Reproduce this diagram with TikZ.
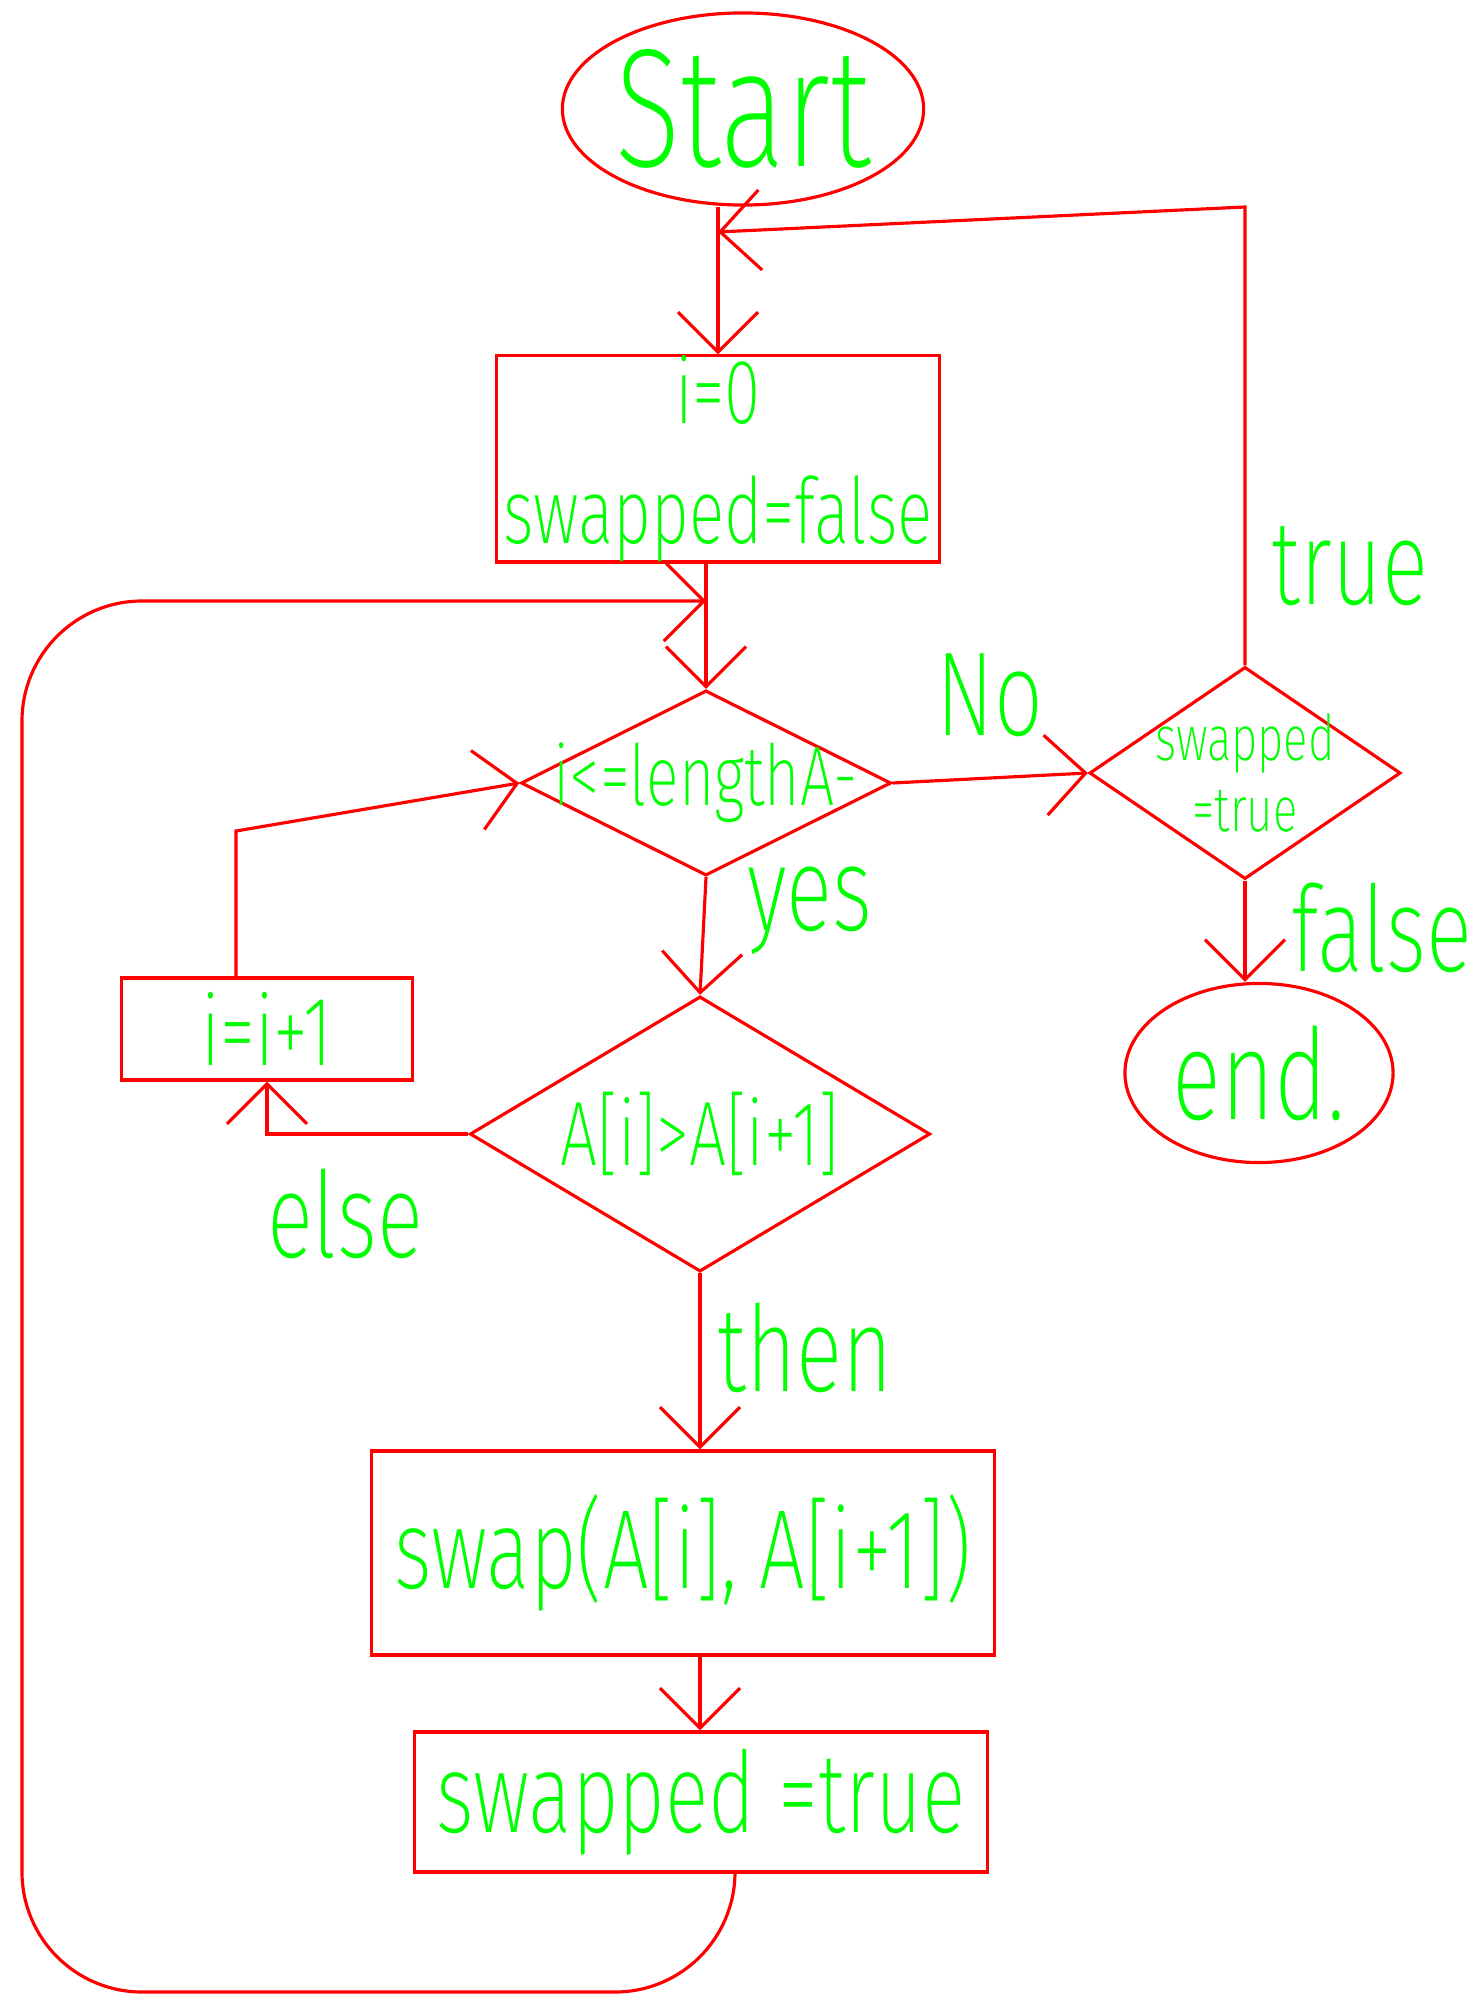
\documentclass[tikz,border=0pt]{standalone}
\usepackage{fontspec}
\setmainfont{Fira Sans}[UprightFont=* ExtraLight, FakeStretch=0.72]
\usetikzlibrary{shapes.geometric,arrows.meta}
\definecolor{pen}{RGB}{255,0,0}
\definecolor{ink}{RGB}{0,255,0}
\tikzset{
  box/.style={rectangle,draw=pen,line width=0.9pt,text=ink,inner sep=0pt},
  term/.style={ellipse,draw=pen,line width=0.9pt,text=ink,inner sep=0pt},
  test/.style={diamond,draw=pen,line width=0.9pt,text=ink,inner sep=0pt},
  arrow/.style={draw=pen,line width=0.9pt,-{Straight Barb[length=4mm,width=8mm]}},
  tag/.style={text=ink,font=\fontsize{34}{34}\selectfont}}

\begin{document}
\begin{tikzpicture}[x=0.01cm,y=-0.01cm]
    \useasboundingbox (0,0) rectangle (1479,2004);
    \node[term, minimum width=3.5cm, minimum height=1.92cm, font=\fontsize{48}{48}\selectfont] (start) at (743,109) {Start};
    \node[box, minimum width=4.43cm, minimum height=1.69cm, align=center, font=\fontsize{26}{34}\selectfont] (init) at (718,459) {i=0\\swapped=false};
    \node[test, minimum width=3.7cm, minimum height=1.85cm, font=\fontsize{24}{24}\selectfont] (loop) at (706,783) {\makebox[0pt]{i<=lengthA-}};
    \node[test, minimum width=3.11cm, minimum height=2.12cm, align=center, font=\fontsize{18}{20}\selectfont] (chk) at (1245,773) {\makebox[0pt]{swapped}\\\makebox[0pt]{=true}};
    \node[term, minimum width=2.68cm, minimum height=1.79cm, font=\fontsize{36}{36}\selectfont] (end) at (1259,1073) {end.};
    \node[test, minimum width=4.6cm, minimum height=2.75cm, font=\fontsize{26}{26}\selectfont] (cmp) at (700,1134) {\makebox[0pt]{A[i]>A[i+1]}};
    \node[box, minimum width=2.91cm, minimum height=1.02cm, font=\fontsize{28}{28}\selectfont] (inc) at (267,1029) {i=i+1};
    \node[box, minimum width=6.23cm, minimum height=2.04cm, font=\fontsize{32}{32}\selectfont] (swap) at (683,1553) {swap(A[i], A[i+1])};
    \node[box, minimum width=5.72cm, minimum height=1.4cm, font=\fontsize{32}{32}\selectfont] (set) at (701,1802) {swapped =true};
    \coordinate (join1) at (718,232);
    \coordinate (turn) at (1245,207);
    \coordinate (join2) at (706,601);
    \coordinate (rise) at (236,831);
    \coordinate (back) at (735,1992);
    \coordinate (left) at (22,1992);
    \draw[arrow] (start.south -| init.north) -- (init.north);
    \draw[arrow] (chk.north) -- (turn) -- (join1);
    \draw[arrow] (init.south -| loop.north) -- (loop.north);
    \draw[arrow, rounded corners=1.2cm] (set.south -| back) -- (back) -- (left) |- (join2);
    \draw[arrow] (loop.east) -- (chk.west);
    \draw[arrow] (loop.south) -- (cmp.north);
    \draw[arrow] (cmp.west) -| (inc.south);
    \draw[arrow] (inc.north -| rise) -- (rise) -- (loop.west);
    \draw[arrow] (cmp.south) -- (cmp.south |- swap.north);
    \draw[arrow] (swap.south -| cmp.south) -- (cmp.south |- set.north);
    \draw[arrow] (chk.south) -- (chk.south |- end.north);
    \node[tag] (no) at (990,695) {No};
    \node[tag] (yes) at (810,911) {yes};
    \node[tag] (true) at (1350,566) {true};
    \node[tag] (false) at (1382,928) {false};
    \node[tag] (else) at (345,1214) {else};
    \node[tag] (then) at (805,1348) {then};
\end{tikzpicture}
\end{document}
